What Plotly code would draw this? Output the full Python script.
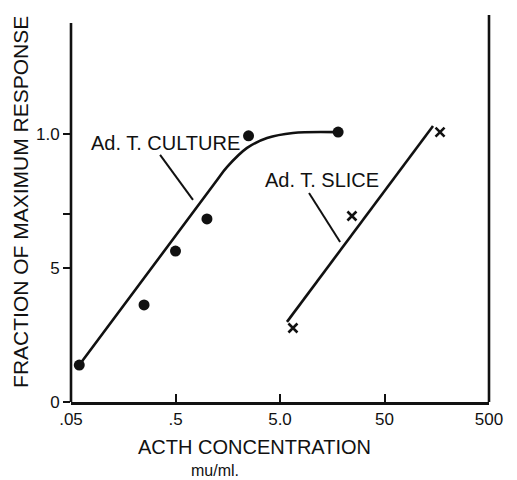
import numpy as np
import plotly.graph_objects as go

# Data: Ad. T. culture (dots)
culture_x = [0.06, 0.25, 0.5, 1.0, 2.5, 18]
culture_y = [0.138, 0.362, 0.563, 0.683, 0.993, 1.007]
# fitted curve through culture data
culture_fit_x = [0.06, 1.19, 1.56, 2.42, 3.76, 6.65, 18]
culture_fit_y = [0.138, 0.817, 0.877, 0.948, 0.985, 1.004, 1.007]

# Data: Ad. T. slice (x markers)
slice_x = [6.65, 24.4, 170]
slice_y = [0.276, 0.694, 1.007]
slice_fit_x = [5.83, 145.6]
slice_fit_y = [0.299, 1.03]

# Tick labels
x_tickvals = [0.05, 0.5, 5, 50, 500]
x_ticktext = [".05", ".5", "5.0", "50", "500"]
y_tickvals = [0, 0.5, 0.7, 1.0]
y_ticktext = ["0", "5", "", "1.0"]

# Label leader lines (data coordinates)
culture_leader_x = [0.356, 0.735]
culture_leader_y = [0.922, 0.754]
slice_leader_x = [9.48, 18.8]
slice_leader_y = [0.78, 0.597]

FONT = "Liberation Sans, Arial, sans-serif"
BLACK = "#111111"

fig = go.Figure()
fig.add_trace(go.Scatter(x=culture_fit_x, y=culture_fit_y, mode="lines",
                         line=dict(color=BLACK, width=2.6, shape="spline", smoothing=1),
                         hoverinfo="skip"))
fig.add_trace(go.Scatter(x=culture_x, y=culture_y, mode="markers",
                         marker=dict(color=BLACK, size=11, symbol="circle")))
fig.add_trace(go.Scatter(x=slice_fit_x, y=slice_fit_y, mode="lines",
                         line=dict(color=BLACK, width=2.6), hoverinfo="skip"))
fig.add_trace(go.Scatter(x=slice_x, y=slice_y, mode="markers",
                         marker=dict(color=BLACK, size=9, symbol="x-thin",
                                     line=dict(color=BLACK, width=2.6))))
fig.add_trace(go.Scatter(x=culture_leader_x, y=culture_leader_y, mode="lines",
                         line=dict(color=BLACK, width=2), hoverinfo="skip"))
fig.add_trace(go.Scatter(x=slice_leader_x, y=slice_leader_y, mode="lines",
                         line=dict(color=BLACK, width=2), hoverinfo="skip"))

Y_TOP = 1.444
annotations = [
    dict(x=np.log10(0.397), y=0.966, xref="x", yref="y", text="Ad. T. CULTURE",
         xanchor="center", yanchor="middle",
         showarrow=False, font=dict(family=FONT, size=20, color=BLACK)),
    dict(x=np.log10(12.6), y=0.828, xref="x", yref="y", text="Ad. T. SLICE",
         xanchor="center", yanchor="middle",
         showarrow=False, font=dict(family=FONT, size=20, color=BLACK)),
    dict(x=-0.1196, y=0.517, xref="paper", yref="paper", textangle=-90,
         xanchor="center", yanchor="middle",
         text="FRACTION OF MAXIMUM RESPONSE", showarrow=False,
         font=dict(family=FONT, size=21, color=BLACK)),
    dict(x=0.438, y=-0.116, xref="paper", yref="paper", text="ACTH CONCENTRATION",
         xanchor="center", yanchor="middle",
         showarrow=False, font=dict(family=FONT, size=20, color=BLACK)),
    dict(x=0.344, y=-0.176, xref="paper", yref="paper", text="mu/ml.",
         xanchor="center", yanchor="middle",
         showarrow=False, font=dict(family=FONT, size=16, color=BLACK)),
]

shapes = [
    # left spine (stops below the top)
    dict(type="line", xref="paper", yref="y", x0=0, x1=0, y0=0, y1=1.414,
         line=dict(color=BLACK, width=2.6)),
    # right spine
    dict(type="line", xref="paper", yref="y", x0=1, x1=1, y0=0, y1=Y_TOP,
         line=dict(color=BLACK, width=2.6)),
]

fig.update_layout(
    width=517, height=480,
    margin=dict(l=71, r=28, t=15, b=78),
    paper_bgcolor="white", plot_bgcolor="white",
    showlegend=False,
    annotations=annotations, shapes=shapes,
    xaxis=dict(type="log", range=[np.log10(0.05), np.log10(500)],
               tickvals=x_tickvals, ticktext=x_ticktext,
               ticks="inside", ticklen=8, tickwidth=2.2, tickcolor=BLACK,
               showline=True, linecolor=BLACK, linewidth=2.6,
               showgrid=False, zeroline=False,
               tickfont=dict(family=FONT, size=17, color=BLACK)),
    yaxis=dict(range=[0, Y_TOP], tickvals=y_tickvals, ticktext=y_ticktext,
               ticks="outside", ticklen=7, tickwidth=2, tickcolor=BLACK,
               showline=False, showgrid=False, zeroline=False,
               tickfont=dict(family=FONT, size=17, color=BLACK)),
)

fig.write_html("out.html", config={"displayModeBar": False},
               post_script="document.body.style.margin='0';")
